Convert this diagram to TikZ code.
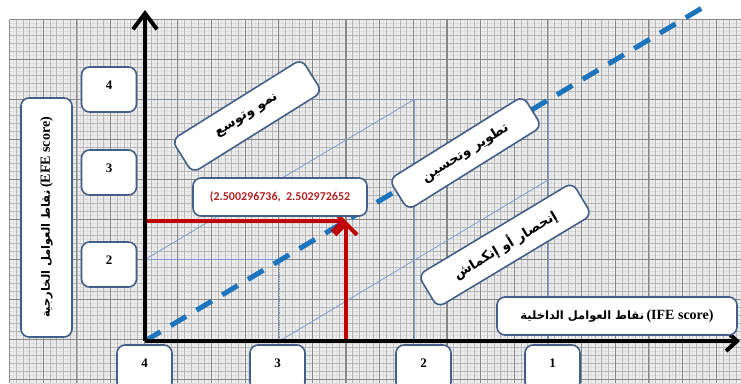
\documentclass[tikz,border=0pt]{standalone}
\usepackage{fontspec}
\setmainfont{Liberation Serif}
\newfontfamily\arabicfont[Script=Arabic]{DejaVu Sans}
\newfontfamily\calib{Carlito}
\TeXXeTstate=1
\usetikzlibrary{arrows.meta}
\definecolor{boxedge}{RGB}{66,96,135}
\definecolor{dashblue}{RGB}{28,117,188}
\definecolor{darkred}{RGB}{192,0,0}
\definecolor{thinblue}{RGB}{125,155,205}
\definecolor{coordred}{RGB}{178,34,34}
\definecolor{paper}{RGB}{238,238,238}
\definecolor{finestg}{RGB}{222,222,222}
\definecolor{minorg}{RGB}{182,182,182}
\definecolor{majorg}{RGB}{135,135,135}
\begin{document}
\begin{tikzpicture}[x=1pt,y=-1pt,
  rbox/.style={draw=boxedge, line width=1.6pt, fill=white, rounded corners=8pt, inner sep=0pt},
  numbox/.style={rbox, minimum width=55pt, minimum height=45pt, font=\bfseries\fontsize{13}{13}\selectfont, text height=9pt, text depth=9pt},
  tiltbox/.style={rbox, font=\arabicfont\bfseries\fontsize{13.5}{13.5}\selectfont},
  finestgrid/.style={draw=finestg, line width=0.4pt},
  minorgrid/.style={draw=minorg, line width=0.6pt},
  majorgrid/.style={draw=majorg, line width=1.1pt},
  thinline/.style={draw=thinblue, line width=0.8pt},
  dotline/.style={draw=thinblue, line width=1.6pt, dash pattern=on 1.2pt off 1.2pt},
  dashline/.style={draw=dashblue, line width=5pt, dash pattern=on 18pt off 12pt},
  redline/.style={draw=darkred, line width=4pt, -{Straight Barb[length=11pt,width=22pt]}},
  axisline/.style={draw=black, line width=4pt},
]
\useasboundingbox (0,0) rectangle (741,383);
\clip (0,0) rectangle (741,383);
\fill[white] (0,0) rectangle (741,383);
% graph paper
\fill[paper] (9.5,19.5) rectangle (741,383);
\foreach \i in {0,...,218} \draw[finestgrid] ({9.5+\i*3.365},19.5) -- ({9.5+\i*3.365},383);
\foreach \j in {0,...,91} \draw[finestgrid] (9.5,{19.5+\j*4}) -- (741,{19.5+\j*4});
\foreach \i in {0,...,109} \draw[minorgrid] ({9.5+\i*6.73},19.5) -- ({9.5+\i*6.73},383);
\foreach \j in {0,...,45} \draw[minorgrid] (9.5,{19.5+\j*8}) -- (741,{19.5+\j*8});
\foreach \i in {0,...,21} \draw[majorgrid] ({9.5+\i*33.65},19.5) -- ({9.5+\i*33.65},383);
\foreach \j in {0,...,9} \draw[majorgrid] (9.5,{19.5+\j*40}) -- (741,{19.5+\j*40});

% reference points
\coordinate (O) at (145,341);
\coordinate (ytip) at (145,10);
\coordinate (xtip) at (740,341);
\coordinate (dend) at (702,8);
\coordinate (a42) at (145,259.5);
\coordinate (a24) at (414.2,99.5);
\coordinate (a31) at (279.6,341);
\coordinate (a13) at (548.8,179.5);
\coordinate (a44) at (145,99.5);
\coordinate (a14) at (548.8,99.5);
\coordinate (a11) at (548.8,341);
\coordinate (a21) at (414.2,341);
\coordinate (a32) at (279.6,259.5);
\coordinate (P) at (346,221);
\coordinate (Py) at (145,221);
\coordinate (Px) at (346,341);

% thin helper lines
\draw[thinline] (a42) -- (a24);
\draw[thinline] (a31) -- (a13);
\draw[dotline] (a44) -- (a14);
\draw[thinline] (a14) -- (a11);
\draw[thinline] (a24) -- (a21);
\draw[thinline] (a42) -- (a32);
\draw[dotline, line width=1pt] (a32) -- (a31);

% dashed diagonal
\draw[dashline] (O) -- (dend);

% red lines
\draw[redline] (Py) -- (P);
\draw[redline] (Px) -- (P);

% axes
\draw[axisline, -{Straight Barb[length=16pt,width=24pt]}] (O) -- (ytip);
\draw[axisline, -{Straight Barb[length=11pt,width=20pt]}] (O) -- (xtip);

% y-axis number boxes
\node[numbox] (y4) at (109,89.5) {4};
\node[numbox] (y3) at (109,172.5) {3};
\node[numbox] (y2) at (109,264.5) {2};

% x-axis number boxes
\node[numbox] (x4) at (144.5,367.5) {4};
\node[numbox] (x3) at (277.5,367.5) {3};
\node[numbox] (x2) at (423.5,367.5) {2};
\node[numbox] (x1) at (552.5,367.5) {1};

% axis title boxes
\node[rbox, rotate=90, minimum width=239pt, minimum height=51pt] (efe) at (46.5,217.5)
  {{\arabicfont\bfseries\fontsize{11.5}{11.5}\selectfont\beginR نقاط العوامل الخارجية\endR}\ {\bfseries\fontsize{14}{14}\selectfont(EFE score)}};
\node[rbox, minimum width=240pt, minimum height=38pt] (ife) at (617,316)
  {{\arabicfont\bfseries\fontsize{11.5}{11.5}\selectfont\beginR نقاط العوامل الداخلية\endR}\ {\bfseries\fontsize{14}{14}\selectfont(IFE score)}};

% tilted region boxes
\node[tiltbox, rotate=32, minimum width=153pt, minimum height=39pt] (grow) at (247,116) {\beginR نمو وتوسع\endR};
\node[tiltbox, rotate=32, minimum width=158pt, minimum height=36pt] (improve) at (465.5,153) {\beginR تطوير وتحسين\endR};
\node[tiltbox, rotate=31, minimum width=180pt, minimum height=38pt] (shrink) at (505,245) {\beginR إنحصار أو إنكماش\endR};

% coordinate box
\node[rbox, minimum width=174pt, minimum height=38pt, font=\calib\bfseries\fontsize{12}{12}\selectfont, text=coordred] (coord) at (280,197) {(2.500296736,\ \ 2.502972652};
\end{tikzpicture}
\end{document}
